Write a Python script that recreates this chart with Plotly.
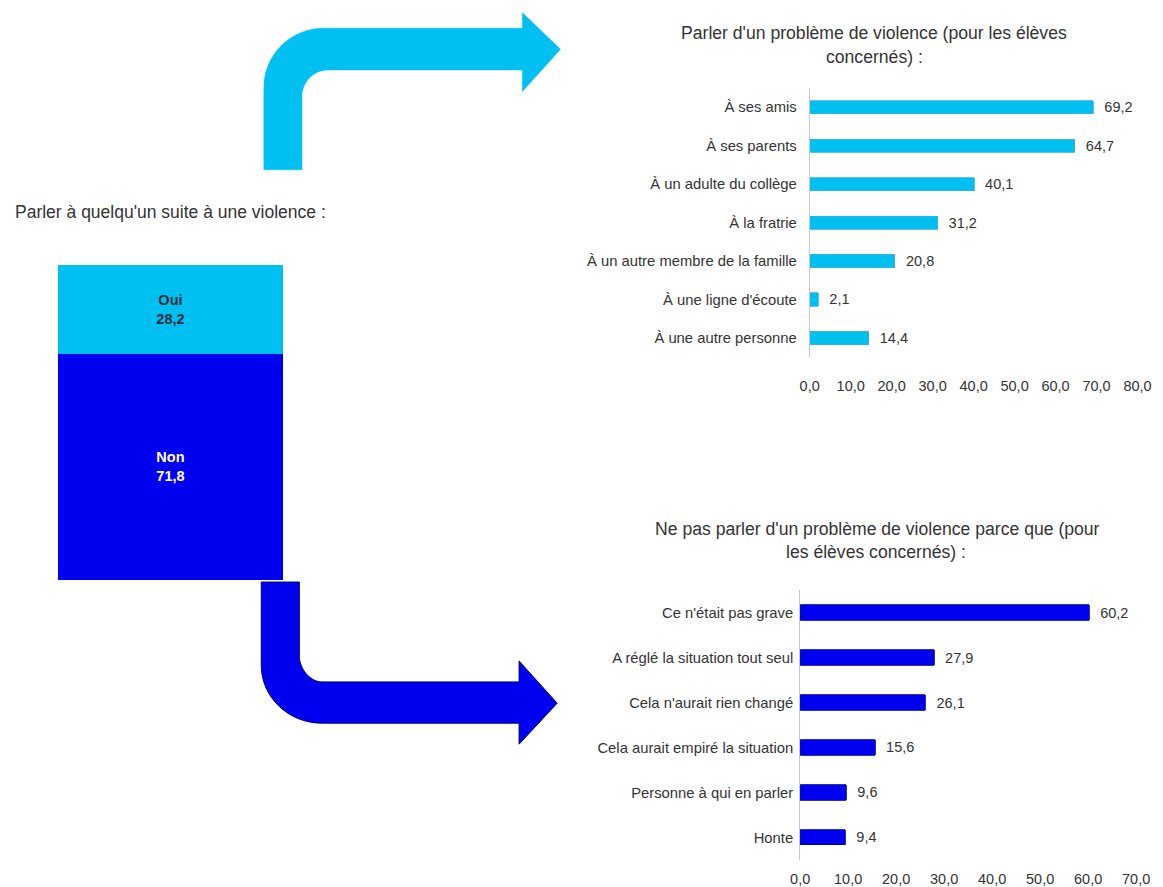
import plotly.graph_objects as go

W, H = 1163, 887

# ---------------- data ----------------
oui_non_labels = ["Oui", "Non"]
oui_non_values = [28.2, 71.8]

parler_categories = [
    "À ses amis",
    "À ses parents",
    "À un adulte du collège",
    "À la fratrie",
    "À un autre membre de la famille",
    "À une ligne d'écoute",
    "À une autre personne",
]
parler_values = [69.2, 64.7, 40.1, 31.2, 20.8, 2.1, 14.4]

ne_pas_categories = [
    "Ce n'était pas grave",
    "A réglé la situation tout seul",
    "Cela n'aurait rien changé",
    "Cela aurait empiré la situation",
    "Personne à qui en parler",
    "Honte",
]
ne_pas_values = [60.2, 27.9, 26.1, 15.6, 9.6, 9.4]

top_ticks = [0, 10, 20, 30, 40, 50, 60, 70, 80]
bottom_ticks = [0, 10, 20, 30, 40, 50, 60, 70]

title_left = "Parler à quelqu'un suite à une violence :"
title_top = ["Parler d'un problème de violence (pour les élèves", "concernés) :"]
title_bottom = ["Ne pas parler d'un problème de violence parce que (pour", "les élèves concernés) :"]

# ---------------- style ----------------
LIGHT = "#00C0F2"
DARK = "#0000F0"
TXT = "#333333"
REG = "Liberation Sans, Arial, sans-serif"

# small horizontal correction for the observed rendering offset
SX, OX = 0.985, 8.0


def fx(x):
    return ((x - OX) / SX) / W


def fy(y):
    return 1 - y / H


def P(x, y):
    return f"{fx(x):.5f},{fy(y):.5f}"


fig = go.Figure()

# stacked bar (left)
colors_lr = {"Oui": LIGHT, "Non": DARK}
txtcol = {"Oui": "#1C2E3C", "Non": "#FFFFFF"}
for lab, val in sorted(zip(oui_non_labels, oui_non_values), key=lambda t: t[0] != "Non"):
    fig.add_trace(go.Bar(
        x=[""], y=[val], name=lab, xaxis="x3", yaxis="y3", width=1,
        marker=dict(color=colors_lr[lab], line=dict(width=0)),
        texttemplate=f"<b>{lab}<br>%{{y:.1f}}</b>",
        textposition="inside", insidetextanchor="middle", textangle=0,
        insidetextfont=dict(family=REG, size=14.5, color=txtcol[lab]),
        constraintext="none", showlegend=False, hoverinfo="skip",
    ))

# top horizontal bars
fig.add_trace(go.Bar(
    x=parler_values, y=parler_categories, orientation="h", xaxis="x", yaxis="y",
    width=0.34, marker=dict(color=LIGHT, line=dict(color="#3AB0DD", width=0.8)),
    texttemplate="\u00a0\u00a0%{x:.1f}", textposition="outside", constraintext="none",
    outsidetextfont=dict(family=REG, size=14.5, color=TXT),
    cliponaxis=False, showlegend=False, hoverinfo="skip",
))

# bottom horizontal bars
fig.add_trace(go.Bar(
    x=ne_pas_values, y=ne_pas_categories, orientation="h", xaxis="x2", yaxis="y2",
    width=0.34, marker=dict(color=DARK, line=dict(color="#00008A", width=0.8)),
    texttemplate="\u00a0\u00a0%{x:.1f}", textposition="outside", constraintext="none",
    outsidetextfont=dict(family=REG, size=14.5, color=TXT),
    cliponaxis=False, showlegend=False, hoverinfo="skip",
))

catfont = dict(family=REG, size=14.8, color=TXT)
tickfont = dict(family=REG, size=14.5, color=TXT)

# arrows
k = 0.5523
top_arrow = (
    f"M {P(263.3,170)} L {P(263.3,88)} "
    f"C {P(263.3,88-59.7*k)} {P(323-59.7*k,28.3)} {P(323,28.3)} "
    f"L {P(523.3,28.3)} L {P(523.3,12.7)} L {P(561.7,49.3)} L {P(523.3,91.7)} "
    f"L {P(523.3,70)} L {P(328,70)} "
    f"C {P(328-26.3*k,70)} {P(301.7,96.7-26.7*k)} {P(301.7,96.7)} "
    f"L {P(301.7,170)} Z"
)
bottom_arrow = (
    f"M {P(260.7,582.7)} L {P(260.7,666)} "
    f"C {P(260.7,666+58*k)} {P(321.7-61*k,724)} {P(321.7,724)} "
    f"L {P(520,724)} L {P(520,745)} L {P(558.3,704)} L {P(520,661.7)} "
    f"L {P(520,682.7)} L {P(321.7,682.7)} "
    f"C {P(321.7-22.7*k,682.7)} {P(299,682.7-25.7*k)} {P(299,657)} "
    f"L {P(299,582.7)} Z"
)
shapes = [
    dict(type="path", path=top_arrow, xref="paper", yref="paper",
         fillcolor=LIGHT, line=dict(color=LIGHT, width=0.5)),
    dict(type="path", path=bottom_arrow, xref="paper", yref="paper",
         fillcolor=DARK, line=dict(color="#00006E", width=1)),
]

annotations = [
    dict(text=title_left, x=fx(11), y=fy(212), xref="paper", yref="paper",
         xanchor="left", yanchor="middle", showarrow=False,
         font=dict(family=REG, size=17.5, color=TXT)),
    dict(text=title_top[0], x=fx(877), y=fy(33), xref="paper", yref="paper",
         xanchor="center", yanchor="middle", showarrow=False,
         font=dict(family=REG, size=17.6, color=TXT)),
    dict(text=title_top[1], x=fx(877), y=fy(57), xref="paper", yref="paper",
         xanchor="center", yanchor="middle", showarrow=False,
         font=dict(family=REG, size=17.6, color=TXT)),
    dict(text=title_bottom[0], x=fx(880), y=fy(530), xref="paper", yref="paper",
         xanchor="center", yanchor="middle", showarrow=False,
         font=dict(family=REG, size=17.6, color=TXT)),
    dict(text=title_bottom[1], x=fx(879), y=fy(553), xref="paper", yref="paper",
         xanchor="center", yanchor="middle", showarrow=False,
         font=dict(family=REG, size=17.6, color=TXT)),
]

fig.update_layout(
    width=W, height=H, margin=dict(l=0, r=0, t=0, b=0),
    paper_bgcolor="white", plot_bgcolor="white",
    separators=",.", barmode="stack", showlegend=False,
    shapes=shapes, annotations=annotations,
    xaxis=dict(domain=[fx(812.3), fx(1142)], range=[0, 80], tickvals=top_ticks,
               tickformat=".1f", showgrid=False, zeroline=False, showline=False,
               ticks="", ticklabelstandoff=18, tickfont=tickfont, anchor="y",
               ticklabeloverflow="allow", fixedrange=True),
    yaxis=dict(domain=[fy(357.6), fy(88)], autorange="reversed", showgrid=False,
               zeroline=False, showline=True, linecolor="#C8C8C8", linewidth=1,
               ticks="", ticklabelstandoff=9, tickfont=catfont, anchor="x",
               fixedrange=True),
    xaxis2=dict(domain=[fx(802.7), fx(1140.6)], range=[0, 70], tickvals=bottom_ticks,
                tickformat=".1f", showgrid=False, zeroline=False, showline=False,
                ticks="", ticklabelstandoff=9, tickfont=tickfont, anchor="y2",
                ticklabeloverflow="allow", fixedrange=True),
    yaxis2=dict(domain=[fy(860.8), fy(590.8)], autorange="reversed", showgrid=False,
                zeroline=False, showline=True, linecolor="#C8C8C8", linewidth=1,
                ticks="", ticklabelstandoff=3, tickfont=catfont, anchor="x2",
                fixedrange=True),
    xaxis3=dict(domain=[fx(56), fx(282.7)], range=[-0.5, 0.5], visible=False,
                anchor="y3", fixedrange=True),
    yaxis3=dict(domain=[fy(580.7), fy(265)], range=[0, 100], visible=False,
                anchor="x3", fixedrange=True),
)

fig.write_html(
    "out.html",
    config={"displayModeBar": False},
    post_script="document.body.style.margin='0';document.body.style.overflow='hidden';",
)
